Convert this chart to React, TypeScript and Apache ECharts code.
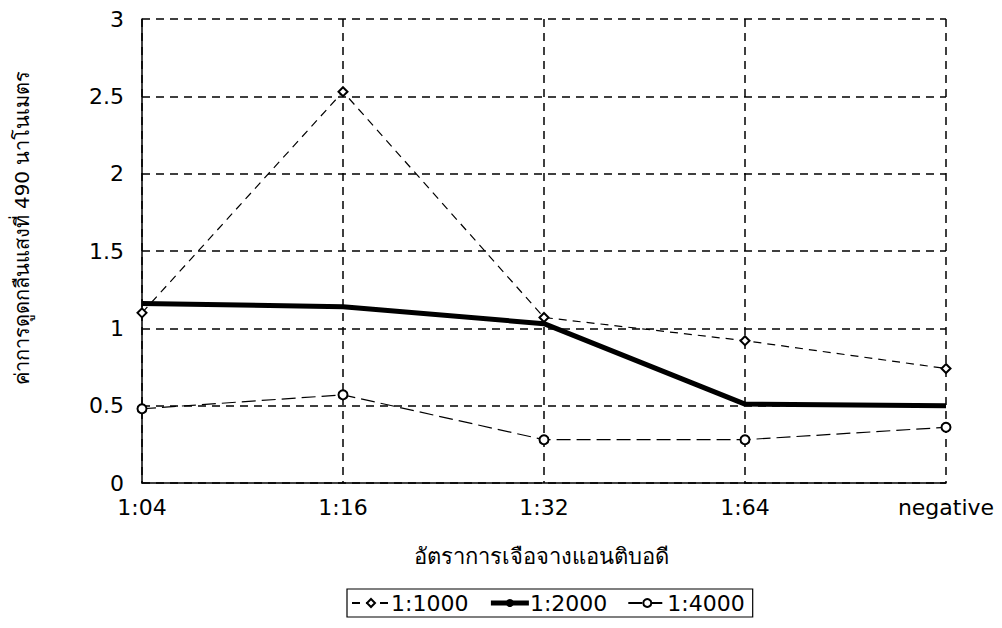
import React, { useEffect, useRef } from "react";
import * as echarts from "echarts";

const categories = ["1:04", "1:16", "1:32", "1:64", "negative"];
const series1000 = [1.1, 2.53, 1.07, 0.92, 0.74];
const series2000 = [1.16, 1.14, 1.03, 0.51, 0.5];
const series4000 = [0.48, 0.57, 0.28, 0.28, 0.36];
const seriesNames = ["1:1000", "1:2000", "1:4000"];
const yTitle = "ค่าการดูดกลืนแสงที่ 490 นาโนเมตร";
const xTitle = "อัตราการเจือจางแอนติบอดี";

const FONT = "'DejaVu Sans', 'Liberation Sans', sans-serif";

export default function App() {
  const ref = useRef<HTMLDivElement>(null);
  useEffect(() => {
    const chart = echarts.init(ref.current!, null, { renderer: "svg" });
    chart.setOption({
      animation: false,
      backgroundColor: "#ffffff",
      textStyle: { fontFamily: FONT, color: "#000" },
      grid: { left: 142, right: 56, top: 19, bottom: 145 },
      xAxis: {
        type: "category",
        data: categories,
        boundaryGap: false,
        axisLine: { lineStyle: { color: "#000", width: 1.5 } },
        axisTick: { show: false },
        axisLabel: { color: "#000", fontSize: 22, fontFamily: FONT, margin: 13 },
        splitLine: { show: true, lineStyle: { color: "#000", type: [8, 6], width: 1.5 } },
      },
      yAxis: {
        type: "value",
        min: 0,
        max: 3,
        interval: 0.5,
        axisLine: { show: true, lineStyle: { color: "#000", width: 1.5 } },
        axisTick: { show: false },
        axisLabel: { color: "#000", fontSize: 22, fontFamily: FONT, margin: 18 },
        splitLine: { show: true, lineStyle: { color: "#000", type: [8, 6], width: 1.5 } },
      },
      graphic: [
        {
          type: "text",
          x: 22,
          y: 228,
          rotation: Math.PI / 2,
          style: {
            text: yTitle,
            fill: "#000",
            font: "20px 'DejaVu Sans', sans-serif",
            align: "center",
            verticalAlign: "middle",
          },
        },
        {
          type: "text",
          x: 541,
          y: 556,
          style: {
            text: xTitle,
            fill: "#000",
            font: "22px 'DejaVu Sans', sans-serif",
            align: "center",
            verticalAlign: "middle",
          },
        },
      ],
      legend: {
        data: [
          { name: seriesNames[0] },
          { name: seriesNames[1], lineStyle: { width: 5 } },
          { name: seriesNames[2] },
        ],
        left: 347,
        top: 589,
        itemGap: 20,
        itemWidth: 38,
        itemHeight: 10,
        padding: [3, 8, 3, 4],
        borderColor: "#000",
        borderWidth: 1.2,
        textStyle: { fontSize: 22, color: "#000", fontFamily: FONT, padding: [0, 0, 0, -4] },
      },
      series: [
        {
          name: seriesNames[0],
          type: "line",
          data: series1000,
          symbol: "emptyDiamond",
          symbolSize: 9,
          itemStyle: { color: "#000", borderWidth: 1 },
          lineStyle: { color: "#000", width: 1.2, type: [8, 6] },
        },
        {
          name: seriesNames[1],
          type: "line",
          data: series2000,
          symbol: "none",
          itemStyle: { color: "#000" },
          lineStyle: { color: "#000", width: 5 },
        },
        {
          name: seriesNames[2],
          type: "line",
          data: series4000,
          symbol: "emptyCircle",
          symbolSize: 9,
          itemStyle: { color: "#000", borderWidth: 1 },
          lineStyle: { color: "#000", width: 1.2, type: [14, 6] },
        },
      ],
    });
    return () => chart.dispose();
  }, []);
  return (
    <div
      ref={ref}
      style={{ position: "fixed", left: 0, top: 0, width: 1002, height: 628, background: "#fff" }}
    />
  );
}
